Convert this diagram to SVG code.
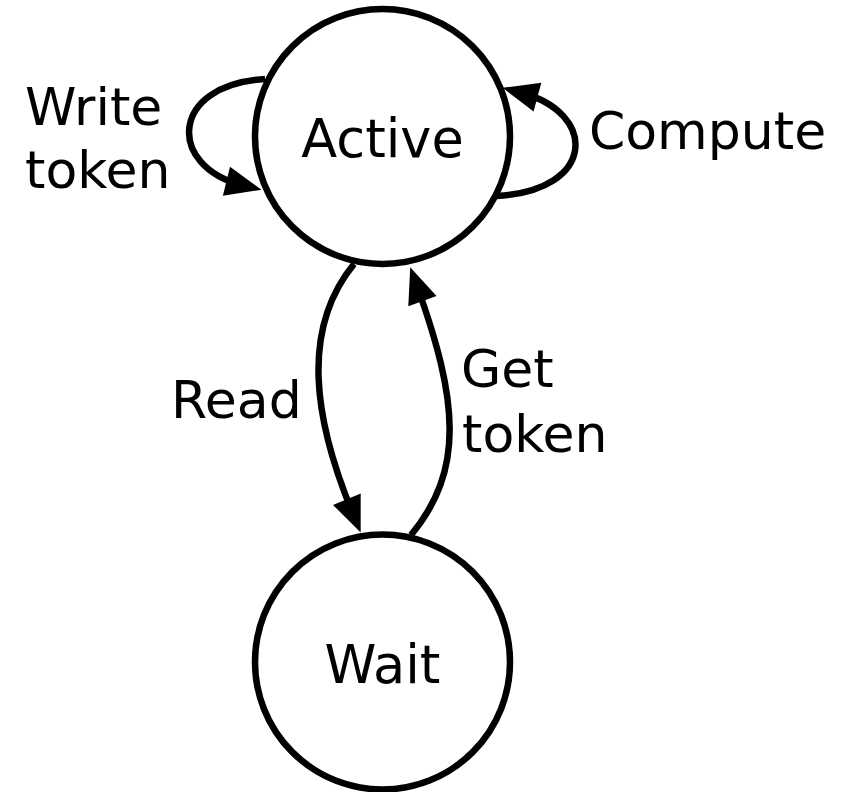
<svg xmlns="http://www.w3.org/2000/svg" width="846" height="792" viewBox="0 0 846 792">
  <style>
    .state { fill: #ffffff; stroke: #000000; stroke-width: 6.5; }
    .edge { fill: none; stroke: #000000; stroke-width: 6.5; marker-end: url(#arrow); }
    text { font-family: "DejaVu Sans", "Liberation Sans", sans-serif; font-size: 52px; fill: #000000; }
    .name { text-anchor: middle; font-size: 52.5px; }
  </style>
  <defs>
    <marker id="arrow" markerUnits="userSpaceOnUse" markerWidth="60" markerHeight="60" refX="0" refY="0" orient="auto" overflow="visible">
      <path d="M 20,0 L -16,-15 L -16,15 Z" fill="#000000"/>
    </marker>
  </defs>

  <g id="connectors">
    <path id="write-token" class="edge" d="M 265,79 C 168,85 168,167 242,185"/>
    <path id="compute" class="edge" d="M 497,196 C 597,190 597,113 522,93"/>
    <path id="read" class="edge" d="M 354,264 C 300,330 314,420 353,514"/>
    <path id="get-token" class="edge" d="M 411,535 C 465,470 458,400 417,286"/>
  </g>

  <g id="active">
    <circle class="state" cx="382.5" cy="136.5" r="127.5"/>
    <text class="name" x="382.5" y="157">Active</text>
  </g>

  <g id="wait">
    <circle class="state" cx="382.5" cy="662" r="127.5"/>
    <text class="name" x="382.5" y="683">Wait</text>
  </g>

  <g id="labels">
    <text x="25" y="125">Write</text>
    <text x="25" y="188">token</text>
    <text x="589" y="149">Compute</text>
    <text x="171" y="418">Read</text>
    <text x="461" y="387">Get</text>
    <text x="462" y="452">token</text>
  </g>
</svg>
